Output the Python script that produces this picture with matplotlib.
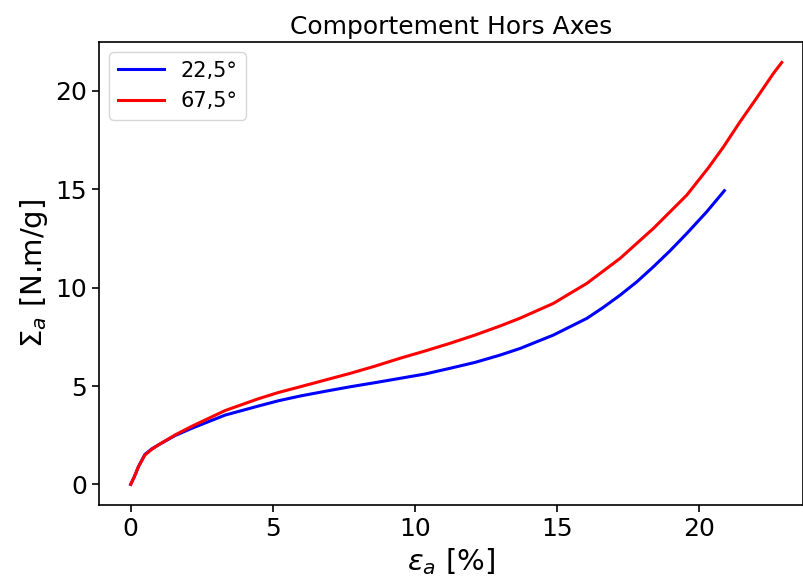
import matplotlib
matplotlib.use("Agg")
import matplotlib.pyplot as plt

# courbes (deformation en %, contrainte en N.m/g)
eps_225 = [0, 0.13, 0.27, 0.5, 0.74, 0.97, 1.56, 2.15, 3.32, 4.49, 5.2, 5.96,
           6.84, 7.72, 8.60, 9.48, 10.36, 11.24, 12.12, 13.0, 13.71, 14.88,
           16.06, 16.64, 17.23, 17.82, 18.40, 18.99, 19.58, 20.28, 20.90]
sig_225 = [0, 0.39, 0.89, 1.52, 1.80, 2.0, 2.48, 2.85, 3.52, 3.98, 4.25, 4.49,
           4.73, 4.96, 5.17, 5.39, 5.61, 5.90, 6.20, 6.57, 6.91, 7.59,
           8.44, 9.0, 9.62, 10.30, 11.06, 11.88, 12.76, 13.86, 14.93]

eps_675 = [0, 0.13, 0.27, 0.5, 0.74, 0.97, 1.56, 2.15, 3.32, 4.49, 5.2, 5.96,
           6.84, 7.72, 8.60, 9.48, 10.36, 11.24, 12.12, 13.0, 13.71, 14.88,
           16.06, 17.23, 18.40, 19.58, 20.34, 20.87, 21.45, 22.04, 22.63, 22.92]
sig_675 = [0, 0.39, 0.89, 1.49, 1.78, 2.0, 2.51, 2.95, 3.75, 4.35, 4.67, 4.96,
           5.30, 5.64, 6.01, 6.41, 6.78, 7.17, 7.59, 8.05, 8.45, 9.20,
           10.22, 11.49, 13.01, 14.71, 16.10, 17.16, 18.43, 19.65, 20.90, 21.45]

labels = ["22,5°", "67,5°"]

fig = plt.figure(figsize=(8.04, 5.86), dpi=100)
ax = fig.add_axes([0.1231, 0.1382, 0.8757, 0.7901])

ax.plot(eps_225, sig_225, color="blue", lw=2.2, label=labels[0])
ax.plot(eps_675, sig_675, color="red", lw=2.2, label=labels[1])

ax.set_xlim(-1.116, 23.67)
ax.set_ylim(-1.05, 22.49)
ax.set_xticks([0, 5, 10, 15, 20])
ax.set_yticks([0, 5, 10, 15, 20])
ax.tick_params(labelsize=18, width=1.2, length=5)
for s in ax.spines.values():
    s.set_linewidth(1.2)

ax.set_title("Comportement Hors Axes", fontsize=18)
ax.set_xlabel(r"$\epsilon_a$ [%]", fontsize=21)
ax.set_ylabel(r"$\Sigma_a$ [N.m/g]", fontsize=21)
ax.legend(loc="upper left", fontsize=15, handlelength=2.2)

fig.savefig("out.png", dpi=100)
